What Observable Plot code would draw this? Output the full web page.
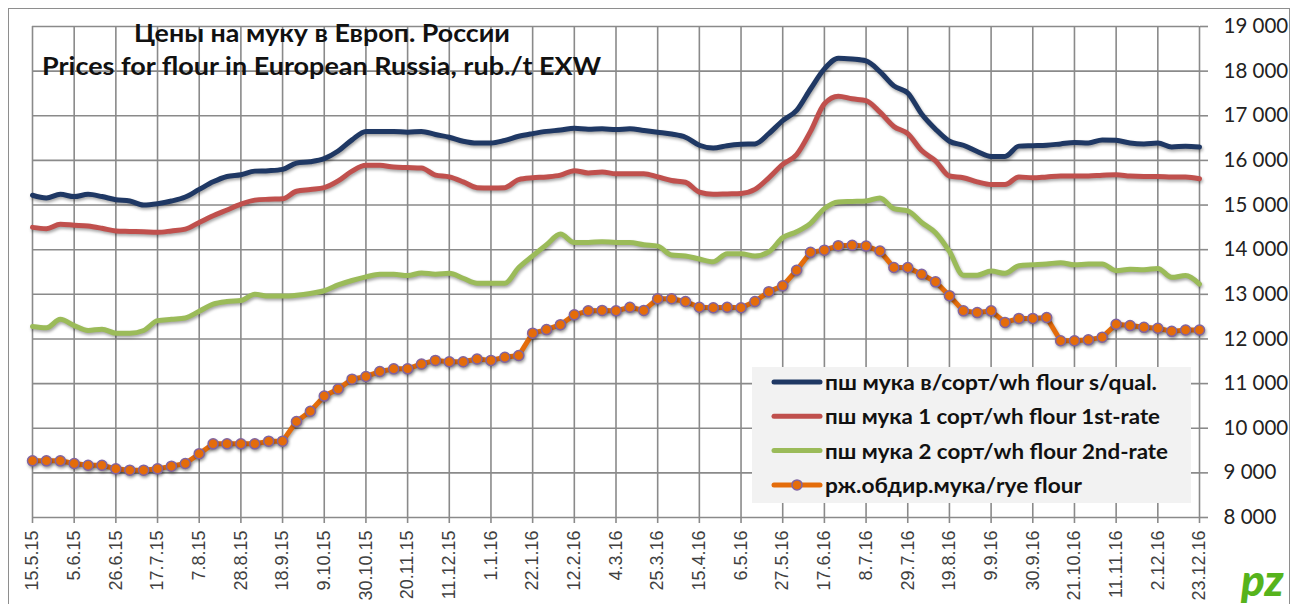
<!DOCTYPE html>
<html><head><meta charset="utf-8">
<script src="https://cdn.jsdelivr.net/npm/d3@7"></script>
<script src="https://cdn.jsdelivr.net/npm/@observablehq/plot@0.6"></script>
<style>
html,body{margin:0;padding:0;background:#fff;}
#wrap{position:relative;width:1292px;height:604px;overflow:hidden;}
#frame{position:absolute;left:8px;top:8px;width:1282px;height:640px;border:1.5px solid #8e8e8e;box-sizing:border-box;}
#chart{position:absolute;left:0;top:0;}
#overlay{position:absolute;left:0;top:0;}
</style></head><body>
<div id="wrap"><div id="frame"></div><div id="chart"></div>
<svg id="overlay" width="1292" height="604"></svg></div>
<script>
const weeks = ["15.5.15","22.5.15","29.5.15","5.6.15","12.6.15","19.6.15","26.6.15","3.7.15","10.7.15","17.7.15","24.7.15","31.7.15","7.8.15","14.8.15","21.8.15","28.8.15","4.9.15","11.9.15","18.9.15","25.9.15","2.10.15","9.10.15","16.10.15","23.10.15","30.10.15","6.11.15","13.11.15","20.11.15","27.11.15","4.12.15","11.12.15","18.12.15","25.12.15","1.1.16","8.1.16","15.1.16","22.1.16","29.1.16","5.2.16","12.2.16","19.2.16","26.2.16","4.3.16","11.3.16","18.3.16","25.3.16","1.4.16","8.4.16","15.4.16","22.4.16","29.4.16","6.5.16","13.5.16","20.5.16","27.5.16","3.6.16","10.6.16","17.6.16","24.6.16","1.7.16","8.7.16","15.7.16","22.7.16","29.7.16","5.8.16","12.8.16","19.8.16","26.8.16","2.9.16","9.9.16","16.9.16","23.9.16","30.9.16","7.10.16","14.10.16","21.10.16","28.10.16","4.11.16","11.11.16","18.11.16","25.11.16","2.12.16","9.12.16","16.12.16","23.12.16"];

const tickLabels = ["15.5.15","5.6.15","26.6.15","17.7.15","7.8.15","28.8.15","18.9.15","9.10.15","30.10.15","20.11.15","11.12.15","1.1.16","22.1.16","12.2.16","4.3.16","25.3.16","15.4.16","6.5.16","27.5.16","17.6.16","8.7.16","29.7.16","19.8.16","9.9.16","30.9.16","21.10.16","11.11.16","2.12.16","23.12.16"];

const yTicks = [8000,9000,10000,11000,12000,13000,14000,15000,16000,17000,18000,19000];

const seriesNames = ["пш мука в/сорт/wh flour s/qual.","пш мука 1 сорт/wh flour 1st-rate","пш мука 2 сорт/wh flour 2nd-rate","рж.обдир.мука/rye flour"];

const flourSQual = [15220,15160,15240,15190,15240,15190,15120,15090,15000,15030,15090,15180,15350,15520,15640,15680,15760,15770,15800,15940,15970,16040,16210,16460,16650,16650,16650,16630,16650,16580,16520,16430,16390,16390,16450,16540,16600,16650,16680,16720,16700,16710,16690,16710,16670,16630,16590,16520,16340,16280,16330,16360,16370,16600,16890,17120,17600,18050,18290,18270,18230,17990,17670,17510,17040,16700,16430,16340,16200,16090,16090,16320,16330,16340,16370,16400,16390,16460,16450,16390,16370,16390,16300,16320,16300];

const flour1st = [14500,14470,14570,14550,14530,14480,14420,14410,14400,14390,14420,14460,14610,14760,14890,15020,15110,15130,15140,15310,15350,15390,15540,15760,15890,15890,15850,15840,15830,15670,15630,15520,15390,15380,15390,15570,15610,15630,15670,15770,15720,15740,15700,15700,15700,15630,15550,15510,15290,15240,15250,15260,15350,15610,15910,16130,16650,17270,17440,17380,17340,17080,16760,16600,16220,15990,15650,15610,15520,15460,15460,15630,15610,15630,15650,15650,15650,15670,15680,15650,15640,15640,15630,15630,15590];

const flour2nd = [12280,12250,12440,12300,12190,12220,12130,12130,12190,12410,12440,12470,12620,12780,12840,12860,13000,12960,12960,12980,13020,13080,13210,13310,13390,13450,13450,13420,13480,13450,13470,13360,13250,13250,13250,13600,13860,14110,14350,14160,14160,14180,14160,14160,14110,14080,13880,13860,13790,13730,13910,13910,13860,13950,14270,14400,14590,14920,15070,15080,15090,15160,14920,14870,14610,14380,13960,13430,13430,13520,13470,13640,13660,13680,13710,13660,13680,13680,13530,13560,13550,13580,13380,13420,13230];

const ryeFlour = [9270,9270,9270,9210,9170,9170,9090,9060,9060,9090,9150,9210,9430,9650,9650,9650,9650,9710,9710,10150,10380,10720,10880,11100,11160,11270,11330,11330,11440,11520,11490,11490,11550,11520,11590,11630,12130,12210,12320,12540,12630,12640,12630,12710,12640,12900,12900,12840,12710,12700,12710,12700,12840,13060,13190,13540,13940,13990,14090,14100,14080,13970,13600,13600,13450,13280,12970,12630,12590,12630,12370,12460,12460,12480,11960,11960,11980,12040,12330,12300,12260,12240,12170,12200,12200];

const colors = ["#1F3864","#C0504D","#9BBB59","#E46C0A"];
const markerStroke = "#8064A2";
const gridColor = "#8a8a8a";

const rows = s => weeks.map((w, i) => ({week: w, value: s[i]}));
const fmt = d => d3.format(",")(d).replace(",", "\u00a0");

const chart = Plot.plot({
  width: 1292, height: 604,
  marginLeft: 32, marginRight: 93, marginTop: 26, marginBottom: 87,
  style: {background: "transparent", fontFamily: "'Liberation Sans', Arial, sans-serif", overflow: "visible"},
  x: {type: "point", domain: weeks, padding: 0},
  y: {domain: [8000, 19000]},
  marks: [
    Plot.gridX(tickLabels, {stroke: gridColor, strokeOpacity: 1, strokeWidth: 1.6}),
    Plot.gridY(yTicks, {stroke: gridColor, strokeOpacity: 1, strokeWidth: 1.6}),
    Plot.axisX(tickLabels, {tickRotate: -90, tickSize: 6, tickPadding: 7, fontSize: 18, fill: "#404040", stroke: gridColor, strokeWidth: 1.6, label: null}),
    Plot.axisY(yTicks, {anchor: "right", tickSize: 8, tickPadding: 16, fontSize: 20.5, fontFamily: "Lato", fill: "#222", stroke: gridColor, strokeWidth: 1.6, tickFormat: fmt, label: null}),
    Plot.line(rows(flourSQual), {x: "week", y: "value", stroke: colors[0], strokeWidth: 5, curve: "monotone-x"}),
    Plot.line(rows(flour1st), {x: "week", y: "value", stroke: colors[1], strokeWidth: 5, curve: "monotone-x"}),
    Plot.line(rows(flour2nd), {x: "week", y: "value", stroke: colors[2], strokeWidth: 5, curve: "monotone-x"}),
    Plot.line(rows(ryeFlour), {x: "week", y: "value", stroke: colors[3], strokeWidth: 5}),
    Plot.dot(rows(ryeFlour), {x: "week", y: "value", r: 5, fill: colors[3], stroke: markerStroke, strokeWidth: 1.5})
  ]
});
document.getElementById("chart").appendChild(chart);
d3.select(chart).selectAll('g[aria-label="line"], g[aria-label="dot"]').style("filter", "drop-shadow(1px 2px 1.5px rgba(0,0,0,0.35))");

// Title and legend overlay
const ov = d3.select("#overlay");
const titleLines = [
  {text: "Цены на муку в Европ. России", x: 322, y: 42, len: 376},
  {text: "Prices for flour in European Russia, rub./t EXW", x: 321.5, y: 75, len: 559}
];
ov.selectAll("text.title").data(titleLines).join("text").attr("class", "title")
  .attr("x", d => d.x).attr("y", d => d.y).attr("text-anchor", "middle")
  .attr("textLength", d => d.len).attr("lengthAdjust", "spacingAndGlyphs")
  .style("font-family", "Lato").style("font-weight", "700").style("font-size", "24px").style("fill", "#111")
  .text(d => d.text);

const leg = ov.append("g");
leg.append("rect").attr("x", 752).attr("y", 367).attr("width", 439).attr("height", 136).attr("fill", "#f2f2f2");
const legLens = [332, 335, 343, 257];
seriesNames.forEach((name, i) => {
  const cy = 382 + i * 34.3;
  leg.append("line").attr("x1", 774).attr("x2", 820).attr("y1", cy).attr("y2", cy)
    .attr("stroke", colors[i]).attr("stroke-width", 5).attr("stroke-linecap", "round");
  if (i === 3) leg.append("circle").attr("cx", 797).attr("cy", cy).attr("r", 5).attr("fill", colors[3]).attr("stroke", markerStroke).attr("stroke-width", 1.5);
  leg.append("text").attr("x", 825).attr("y", cy + 8).attr("textLength", legLens[i]).attr("lengthAdjust", "spacingAndGlyphs")
    .style("font-family", "Lato").style("font-weight", "700").style("font-size", "21px").style("fill", "#111").text(name);
});

// logo
ov.append("text").attr("x", 1241).attr("y", 596).style("font-family", "Lato").style("font-weight", "900")
  .style("font-size", "44px").style("font-style", "italic").style("fill", "#56b31c").text("pz");
</script>
</body></html>
